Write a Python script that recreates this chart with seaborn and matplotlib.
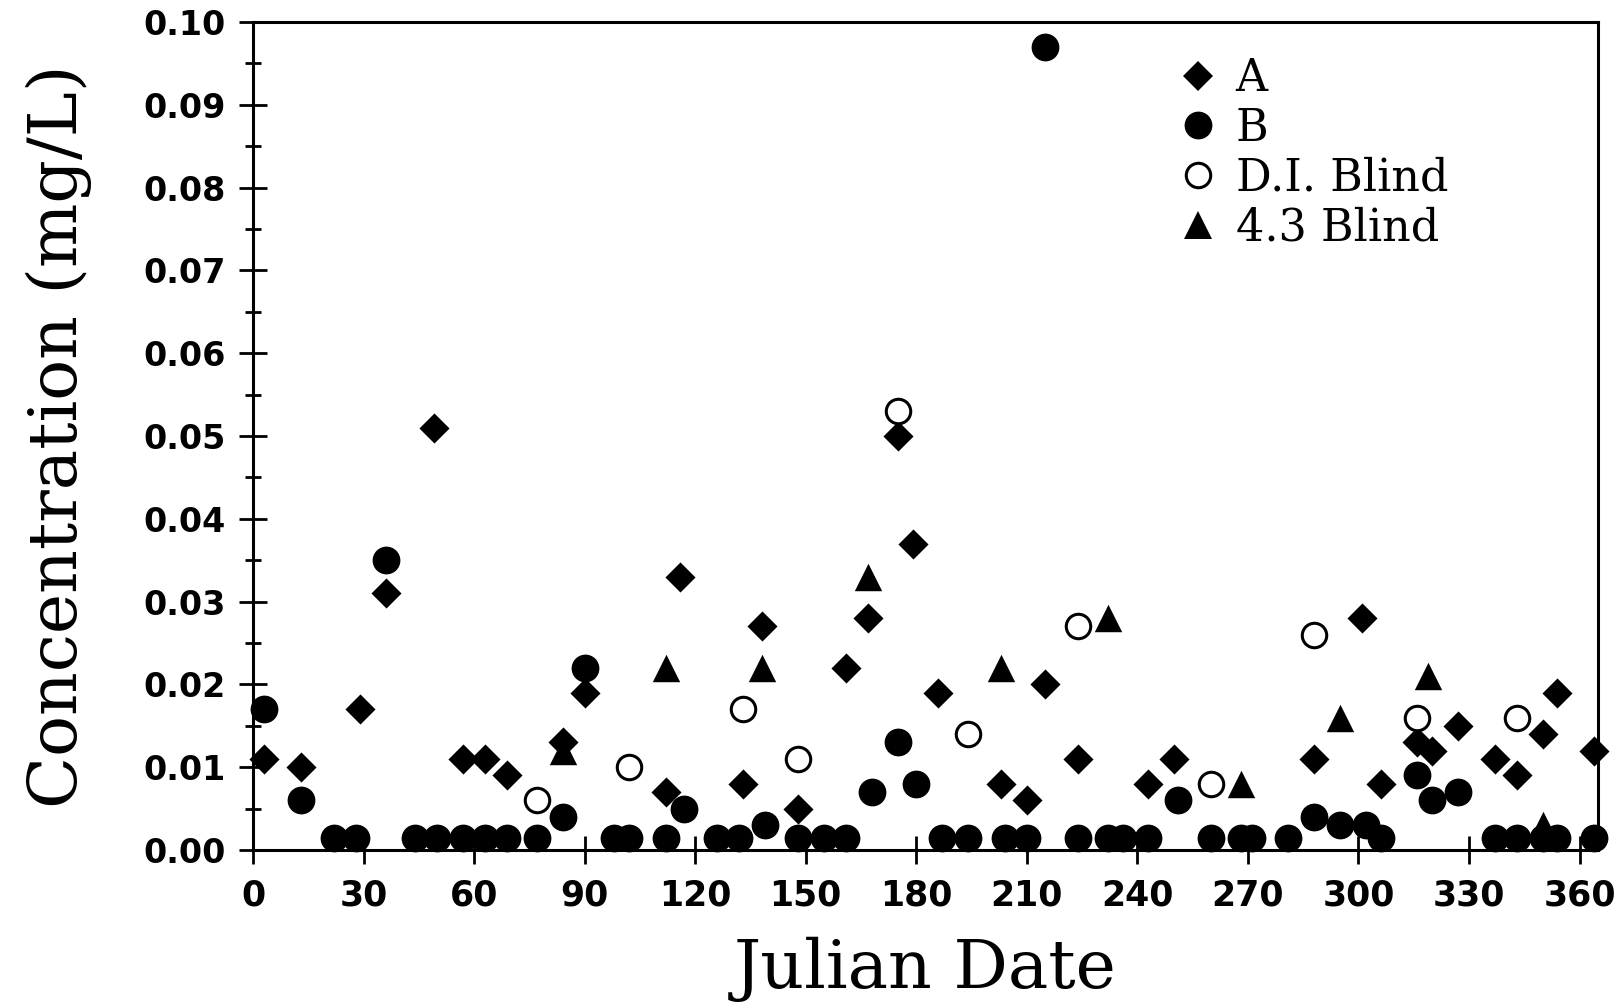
import matplotlib
matplotlib.use("Agg")
import matplotlib.pyplot as plt
from matplotlib.lines import Line2D
from matplotlib.ticker import MultipleLocator, FormatStrFormatter
import seaborn as sns

# Sample A
a_day = [3, 13, 29, 36, 49, 57, 63, 69, 84, 90, 112, 116, 133, 138, 148, 161,
         167, 175, 179, 186, 203, 210, 215, 224, 243, 250, 288, 301, 306, 316,
         320, 327, 337, 343, 350, 354, 364]
a_conc = [0.011, 0.010, 0.017, 0.031, 0.051, 0.011, 0.011, 0.009, 0.013, 0.019,
          0.007, 0.033, 0.008, 0.027, 0.005, 0.022, 0.028, 0.050, 0.037, 0.019,
          0.008, 0.006, 0.020, 0.011, 0.008, 0.011, 0.011, 0.028, 0.008, 0.013,
          0.012, 0.015, 0.011, 0.009, 0.014, 0.019, 0.012]

# Sample B
b_day = [3, 13, 22, 28, 36, 44, 50, 57, 63, 69, 77, 84, 90, 98, 102, 112, 117,
         126, 132, 139, 148, 155, 161, 168, 175, 180, 187, 194, 204, 210, 215,
         224, 232, 236, 243, 251, 260, 268, 271, 281, 288, 295, 302, 306, 316,
         320, 327, 337, 343, 350, 354, 364]
b_conc = [0.017, 0.006, 0.0015, 0.0015, 0.035, 0.0015, 0.0015, 0.0015, 0.0015,
          0.0015, 0.0015, 0.004, 0.022, 0.0015, 0.0015, 0.0015, 0.005, 0.0015,
          0.0015, 0.003, 0.0015, 0.0015, 0.0015, 0.007, 0.013, 0.008, 0.0015,
          0.0015, 0.0015, 0.0015, 0.097, 0.0015, 0.0015, 0.0015, 0.0015, 0.006,
          0.0015, 0.0015, 0.0015, 0.0015, 0.004, 0.003, 0.003, 0.0015, 0.009,
          0.006, 0.007, 0.0015, 0.0015, 0.0015, 0.0015, 0.0015]

# Deionized-water blind
di_day = [77, 102, 133, 148, 175, 194, 224, 260, 288, 316, 343]
di_conc = [0.006, 0.010, 0.017, 0.011, 0.053, 0.014, 0.027, 0.008, 0.026,
           0.016, 0.016]

# pH 4.3 blind
p43_day = [84, 112, 138, 167, 203, 232, 268, 295, 319, 350]
p43_conc = [0.012, 0.022, 0.022, 0.033, 0.022, 0.028, 0.008, 0.016, 0.021,
            0.003]

series_labels = ["A", "B", "D.I. Blind", "4.3 Blind"]
x_ticks = list(range(0, 361, 30))

sns.set_style("ticks")
plt.rcParams["font.family"] = ["DejaVu Serif"]
plt.rcParams["text.color"] = "black"
plt.rcParams["axes.labelcolor"] = "black"
plt.rcParams["xtick.color"] = "black"
plt.rcParams["ytick.color"] = "black"

fig = plt.figure(figsize=(16.21, 10.05), dpi=100)
W, H = 1621, 1005
ax = fig.add_axes([253 / W, 1 - 850 / H, (1598 - 253) / W, (850 - 22) / H])

filled = dict(color="black", edgecolor="black", linewidth=0, clip_on=False,
              zorder=3, legend=False)
sns.scatterplot(x=b_day, y=b_conc, marker="o", s=400, ax=ax, **filled)
sns.scatterplot(x=a_day, y=a_conc, marker="D", s=235, ax=ax, **filled)
sns.scatterplot(x=p43_day, y=p43_conc, marker="^", s=390, ax=ax, **filled)
sns.scatterplot(x=di_day, y=di_conc, marker="o", s=310, color="black",
                facecolor="white", edgecolor="black", linewidth=2.2,
                clip_on=False, zorder=4, legend=False, ax=ax)

ax.set_xlim(0, 365)
ax.set_ylim(0, 0.10)
ax.set_xticks(x_ticks)
ax.yaxis.set_major_locator(MultipleLocator(0.01))
ax.yaxis.set_minor_locator(MultipleLocator(0.005))
ax.yaxis.set_major_formatter(FormatStrFormatter("%.2f"))

for lab in ax.get_yticklabels():
    lab.set_fontfamily("DejaVu Sans")
    lab.set_fontweight("bold")
    lab.set_fontsize(24)
for lab in ax.get_xticklabels():
    lab.set_fontfamily("DejaVu Sans")
    lab.set_fontweight("bold")
    lab.set_fontsize(25)

ax.tick_params(axis="both", which="major", direction="inout", length=19.5,
               width=2, color="black", labelcolor="black")
ax.tick_params(axis="x", which="major", pad=11)
ax.tick_params(axis="y", which="major", pad=10)
ax.tick_params(axis="y", which="minor", direction="inout", length=11.5,
               width=2, color="black")
ax.tick_params(top=False, right=False)

for sp in ax.spines.values():
    sp.set_linewidth(2.2)
    sp.set_color("black")

ax.set_xlabel("Julian Date", fontsize=49, family="DejaVu Serif",
              va="baseline", color="black")
ax.xaxis.set_label_coords(0.5, (850 - 988) / 828)
ax.set_ylabel("Concentration (mg/L)", fontsize=49, family="DejaVu Serif",
              va="baseline", color="black")
ax.yaxis.set_label_coords((77 - 253) / 1345, 0.5)

handles = [
    Line2D([], [], linestyle="none", marker="D", markersize=15,
           markerfacecolor="black", markeredgewidth=0),
    Line2D([], [], linestyle="none", marker="o", markersize=20,
           markerfacecolor="black", markeredgewidth=0),
    Line2D([], [], linestyle="none", marker="o", markersize=17.6,
           markerfacecolor="white", markeredgecolor="black",
           markeredgewidth=2.2),
    Line2D([], [], linestyle="none", marker="^", markersize=19.8,
           markerfacecolor="black", markeredgewidth=0),
]
ax.legend(handles, series_labels, loc="upper left",
          bbox_to_anchor=((1180 - 253) / 1345, 1 - (57 - 22) / 828),
          frameon=False, borderpad=0, borderaxespad=0, handlelength=0.8,
          handletextpad=0.45, labelspacing=0.15,
          prop=dict(family="DejaVu Serif", size=32))

fig.savefig("out.png", dpi=100)
